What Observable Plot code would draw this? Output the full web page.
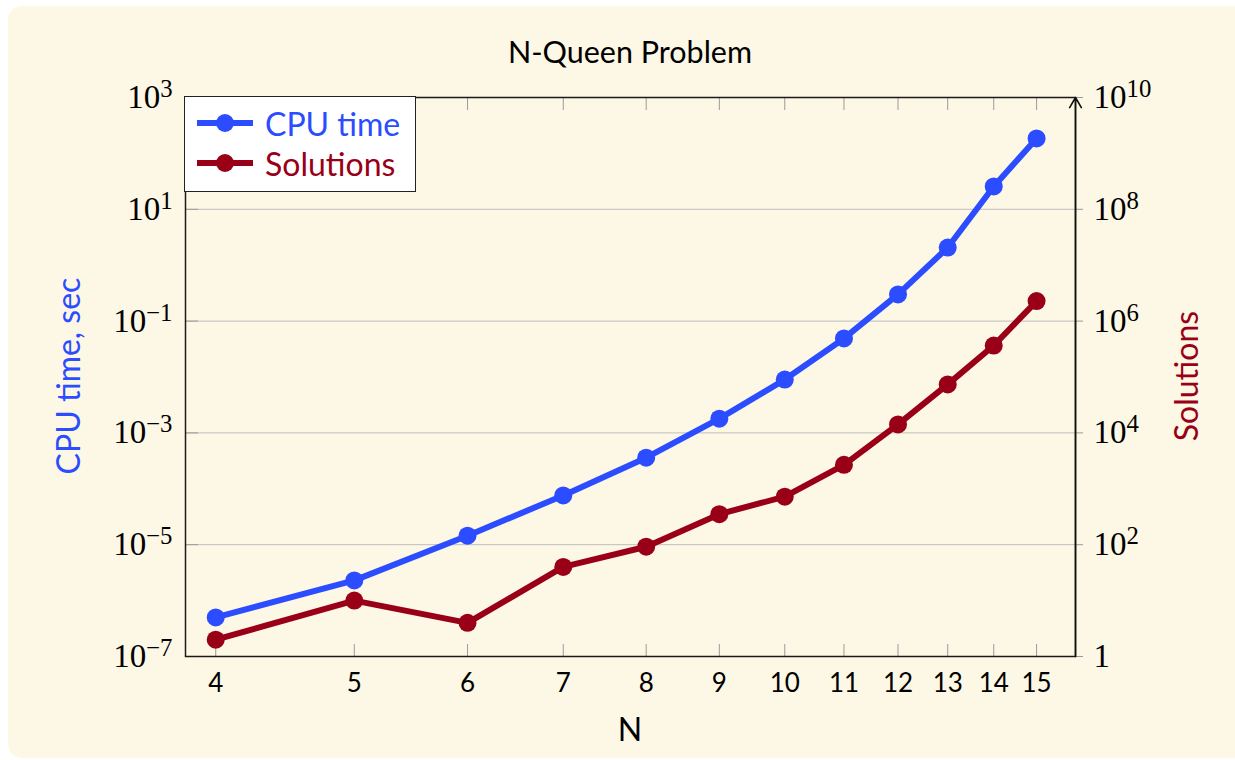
<!DOCTYPE html>
<html>
<head>
<meta charset="utf-8">
<script src="https://cdn.jsdelivr.net/npm/d3@7"></script>
<script src="https://cdn.jsdelivr.net/npm/@observablehq/plot@0.6"></script>
<style>
  html, body { margin: 0; padding: 0; background: #ffffff; width: 1235px; height: 760px; overflow: hidden; }
  #panel { position: absolute; left: 8px; top: 6px; width: 1250px; height: 752px; border-radius: 14px; background: #fdf8e5; }
  #chart { position: absolute; left: 0; top: 0; }
  .lbl { position: absolute; font-family: Lato, "Open Sans", sans-serif; font-size: 32px; color: #000; white-space: nowrap; line-height: 1; }
  #title { left: 630px; top: 51px; transform: translate(-50%, -50%); font-size: 30.5px; }
  #xlabel { left: 630px; top: 729px; transform: translate(-50%, -50%); }
  #ylabelL { left: 68px; top: 376px; transform: translate(-50%, -50%) rotate(-90deg); color: #2b4cff; }
  #ylabelR { left: 1186px; top: 376px; transform: translate(-50%, -50%) rotate(-90deg); color: #990018; }
  #legend { position: absolute; left: 184px; top: 96px; width: 232px; height: 96px; background: #fff; border: 1.5px solid #222; box-sizing: border-box; }
  .item { position: absolute; left: 12px; height: 40px; display: flex; align-items: center; font-family: Lato, "Open Sans", sans-serif; font-size: 32px; }
  .item svg { margin-right: 12px; }
</style>
</head>
<body>
<div id="panel"></div>
<div id="chart"></div>
<div class="lbl" id="title">N-Queen Problem</div>
<div class="lbl" id="xlabel">N</div>
<div class="lbl" id="ylabelL">CPU time, sec</div>
<div class="lbl" id="ylabelR">Solutions</div>
<div id="legend"></div>
<script>
// ---- data ----
const queens = [4, 5, 6, 7, 8, 9, 10, 11, 12, 13, 14, 15];
const cpuTime = [5.0e-7, 2.3e-6, 1.45e-5, 7.6e-5, 3.6e-4, 1.8e-3, 9.0e-3, 0.049, 0.30, 2.07, 25.6, 185];
const solutions = [2, 10, 4, 40, 92, 352, 724, 2680, 14200, 73712, 365596, 2279184];
const xTicks = [4, 5, 6, 7, 8, 9, 10, 11, 12, 13, 14, 15];
const leftTicks = [1e-7, 1e-5, 1e-3, 1e-1, 1e1, 1e3];
const rightTicks = [1, 1e2, 1e4, 1e6, 1e8, 1e10];
const seriesNames = ["CPU time", "Solutions"];
const seriesColors = ["#2b4cff", "#990018"];

const xDomain = [3.81, 15.97];
const leftDomain = [1e-7, 1e3];
const rightDomain = [1, 1e10];
const rightToLeft = leftDomain[0] / rightDomain[0];

const cpuRows = queens.map((n, i) => ({n, v: cpuTime[i]}));
const solRows = queens.map((n, i) => ({n, v: solutions[i] * rightToLeft}));
const rightTickPos = rightTicks.map(t => t * rightToLeft);

const serif = '"Liberation Serif", "DejaVu Serif", serif';
const sans = 'Lato, "Open Sans", sans-serif';

const expLabel = d => {
  const e = Math.round(Math.log10(d));
  return e === 0 ? "1" : "10^" + e;
};

const plot = Plot.plot({
  width: 1235,
  height: 760,
  marginLeft: 185,
  marginRight: 160,
  marginTop: 97,
  marginBottom: 104,
  style: {background: "transparent", overflow: "visible"},
  x: {type: "log", domain: xDomain},
  y: {type: "log", domain: leftDomain},
  marks: [
    Plot.gridY(leftTicks.slice(1, -1), {stroke: "#bdbdbd", strokeOpacity: 1, strokeWidth: 1}),
    Plot.axisX(xTicks, {anchor: "bottom", tickSize: -12, stroke: "#9a9a9a", tickFormat: () => "", label: null}),
    Plot.axisX(xTicks, {anchor: "top", tickSize: -12, stroke: "#9a9a9a", tickFormat: () => "", label: null}),
    Plot.axisX(xTicks, {anchor: "bottom", tickSize: 0, tickPadding: 17, fontSize: 26, fontFamily: sans, fill: "#000", tickFormat: d => String(d), label: null}),
    Plot.axisY(leftTicks, {anchor: "left", tickSize: -13, stroke: "#9a9a9a", tickFormat: () => "", label: null}),
    Plot.axisY(leftTicks, {anchor: "left", tickSize: 0, tickPadding: 13, fontSize: 33, fontFamily: serif, fill: "#000", tickFormat: expLabel, label: null}),
    Plot.axisY(rightTickPos, {anchor: "right", tickSize: 7, stroke: "#9a9a9a", tickFormat: () => "", label: null}),
    Plot.axisY(rightTickPos, {anchor: "right", tickSize: 0, tickPadding: 18, fontSize: 33, fontFamily: serif, fill: "#000", tickFormat: d => expLabel(d / rightToLeft), label: null}),
    Plot.frame({stroke: "#1a1a1a", strokeWidth: 1.5}),
    Plot.arrow([0], {x1: () => xDomain[1], x2: () => xDomain[1], y1: () => leftDomain[0], y2: () => leftDomain[1], stroke: "#111", strokeWidth: 1.6, headLength: 11}),
    Plot.line(cpuRows, {x: "n", y: "v", stroke: seriesColors[0], strokeWidth: 6, strokeLinejoin: "round"}),
    Plot.dot(cpuRows, {x: "n", y: "v", r: 9, fill: seriesColors[0]}),
    Plot.line(solRows, {x: "n", y: "v", stroke: seriesColors[1], strokeWidth: 6, strokeLinejoin: "round"}),
    Plot.dot(solRows, {x: "n", y: "v", r: 9, fill: seriesColors[1]})
  ]
});

// superscripts in tick labels
const ns = "http://www.w3.org/2000/svg";
plot.querySelectorAll('g[aria-label="y-axis tick label"] text').forEach(t => {
  const m = t.textContent.match(/^10\^(-?\d+)$/);
  if (!m) return;
  t.textContent = "";
  const a = document.createElementNS(ns, "tspan");
  a.textContent = "10";
  const b = document.createElementNS(ns, "tspan");
  b.textContent = m[1].replace("-", "\u2212");
  b.setAttribute("dy", "-0.45em");
  b.setAttribute("font-size", "75%");
  t.append(a, b);
});
document.getElementById("chart").append(plot);

// legend
const legend = document.getElementById("legend");
seriesNames.forEach((name, i) => {
  const item = document.createElement("div");
  item.className = "item";
  item.style.top = (6 + i * 40) + "px";
  item.style.color = seriesColors[i];
  item.innerHTML = `<svg width="56" height="24"><line x1="0" x2="56" y1="12" y2="12" stroke="${seriesColors[i]}" stroke-width="6"/><circle cx="28" cy="12" r="9" fill="${seriesColors[i]}"/></svg><span>${name}</span>`;
  legend.append(item);
});
</script>
</body>
</html>
